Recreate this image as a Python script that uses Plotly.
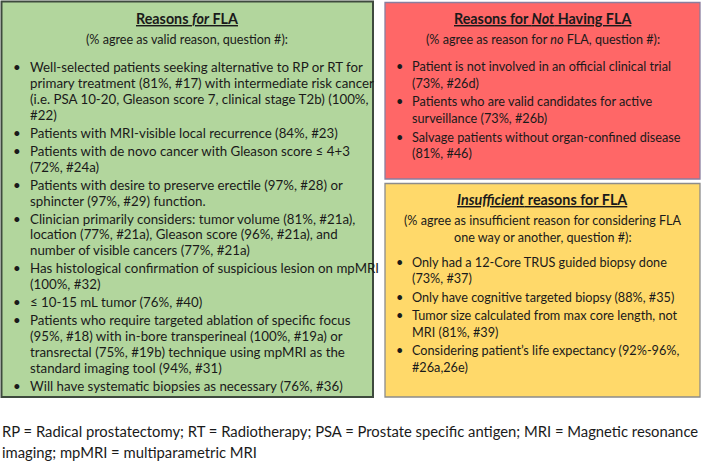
import plotly.graph_objects as go

W, H = 709, 464

# ---- content ----
for_title = "<u>Reasons <i>for</i> FLA</u>"
for_subtitle = ["(% agree as valid reason, question #):"]
for_items = [
    ["Well-selected patients seeking alternative to RP or RT for",
     "primary treatment (81%, #17) with intermediate risk cancer",
     "(i.e. PSA 10-20, Gleason score 7, clinical stage T2b) (100%,",
     "#22)"],
    ["Patients with MRI-visible local recurrence (84%, #23)"],
    ["Patients with de novo cancer with Gleason score ≤ 4+3",
     "(72%, #24a)"],
    ["Patients with desire to preserve erectile (97%, #28) or",
     "sphincter (97%, #29) function."],
    ["Clinician primarily considers: tumor volume (81%, #21a),",
     "location (77%, #21a), Gleason score (96%, #21a), and",
     "number of visible cancers (77%, #21a)"],
    ["Has histological confirmation of suspicious lesion on mpMRI",
     "(100%, #32)"],
    ["≤ 10-15 mL tumor (76%, #40)"],
    ["Patients who require targeted ablation of specific focus",
     "(95%, #18) with in-bore transperineal (100%, #19a) or",
     "transrectal (75%, #19b) technique using mpMRI as the",
     "standard imaging tool (94%, #31)"],
    ["Will have systematic biopsies as necessary (76%, #36)"],
]

not_title = "<u>Reasons for <i>Not</i> Having FLA</u>"
not_subtitle = ["(% agree as reason for <i>no</i> FLA, question #):"]
not_items = [
    ["Patient is not involved in an official clinical trial",
     "(73%, #26d)"],
    ["Patients who are valid candidates for active",
     "surveillance (73%, #26b)"],
    ["Salvage patients without organ-confined disease",
     "(81%, #46)"],
]

ins_title = "<u><i>Insufficient</i> reasons for FLA</u>"
ins_subtitle = ["(% agree as insufficient reason for considering FLA",
                "one way or another, question #):"]
ins_items = [
    ["Only had a 12-Core TRUS guided biopsy done",
     "(73%, #37)"],
    ["Only have cognitive targeted biopsy (88%, #35)"],
    ["Tumor size calculated from max core length, not",
     "MRI (81%, #39)"],
    ["Considering patient’s life expectancy (92%-96%,",
     "#26a,26e)"],
]

footnote = ["RP = Radical prostatectomy; RT = Radiotherapy; PSA = Prostate specific antigen; MRI = Magnetic resonance",
            "imaging; mpMRI = multiparametric MRI"]

# ---- styling ----
FONT = "Lato"
TITLE = 14.3
GAP = 2.1
TXT = "#1a1a1a"

boxes = [
    dict(x0=1.5, y0=1.5, x1=373, y1=397, fill="#B2D69D", line="#3E4A3E", width=2,
         title=for_title, sub=for_subtitle, items=for_items, ty=18, by=67, bx=12, tx=29,
         body=13.3, subsize=12.6, line_h=15.9),
    dict(x0=385, y0=2.5, x1=700, y1=179, fill="#FF6767", line="#8A7E9E", width=1.3,
         title=not_title, sub=not_subtitle, items=not_items, ty=18, by=66, bx=395, tx=411,
         body=12.7, subsize=12.6, line_h=16.6),
    dict(x0=385, y0=183.5, x1=700, y1=397, fill="#FFD96A", line="#8C8C8C", width=1.3,
         title=ins_title, sub=ins_subtitle, items=ins_items, ty=199, by=262, bx=395, tx=411,
         body=12.7, subsize=12.6, line_h=16.4),
]

fig = go.Figure()
shapes = []
annotations = []

def ann(x, y, text, size, xanchor="left", bold=False):
    annotations.append(dict(
        x=x, y=y, xref="x", yref="y", text=("<b>%s</b>" % text) if bold else text,
        showarrow=False, xanchor=xanchor, yanchor="middle", borderpad=0,
        align="center" if xanchor == "center" else "left",
        font=dict(family=FONT, size=size, color=TXT)))

for b in boxes:
    shapes.append(dict(type="rect", xref="x", yref="y", x0=b["x0"], y0=b["y0"], x1=b["x1"], y1=b["y1"],
                       fillcolor=b["fill"], line=dict(color=b["line"], width=b["width"]), layer="below"))
    cx = (b["x0"] + b["x1"]) / 2
    ann(cx, b["ty"], b["title"], TITLE, xanchor="center", bold=True)
    y = b["ty"] + 21
    for s in b["sub"]:
        ann(cx, y, s, b["subsize"], xanchor="center")
        y += 17
    y = b["by"]
    for item in b["items"]:
        ann(b["bx"], y, "•", b["body"])
        for ln in item:
            ann(b["tx"], y, ln, b["body"])
            y += b["line_h"]
        y += GAP

fy = 431
for ln in footnote:
    ann(1, fy, ln, 14.8)
    fy += 21

fig.add_trace(go.Scatter(x=[0, W], y=[0, H], mode="markers", marker=dict(opacity=0),
                         hoverinfo="skip", showlegend=False))
fig.update_layout(
    width=W, height=H, margin=dict(l=0, r=0, t=0, b=0),
    paper_bgcolor="white", plot_bgcolor="white",
    xaxis=dict(range=[0, W], visible=False, fixedrange=True),
    yaxis=dict(range=[H, 0], visible=False, fixedrange=True),
    shapes=shapes, annotations=annotations, showlegend=False,
)
fig.write_html("out.html", config={"displayModeBar": False},
               post_script="document.body.style.margin='0';document.body.style.overflow='hidden';")
